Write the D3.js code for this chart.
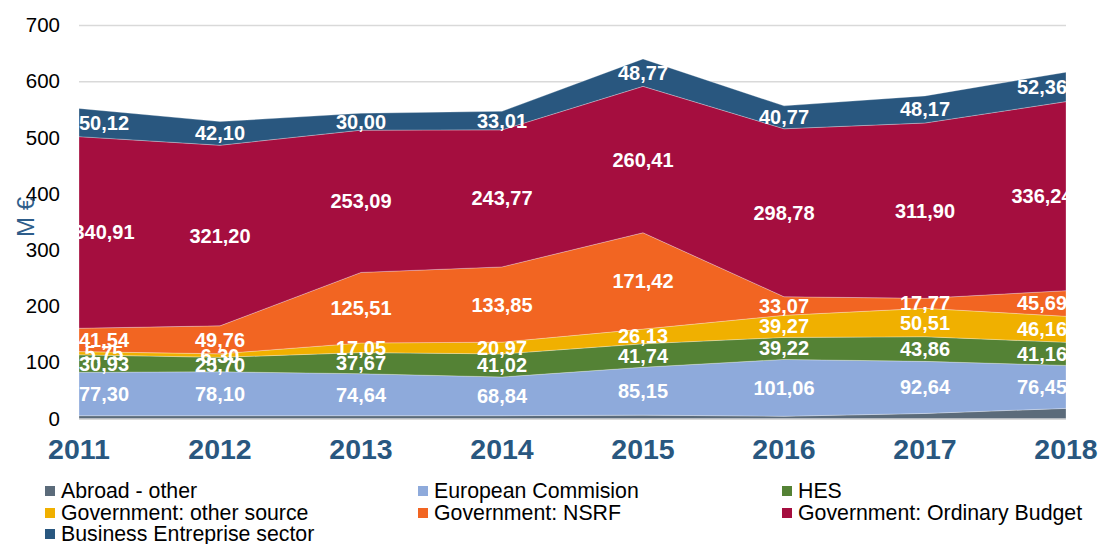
<!DOCTYPE html>
<html>
<head>
<meta charset="utf-8">
<script src="https://cdn.jsdelivr.net/npm/d3@7.9.0/dist/d3.min.js"></script>
<style>
  body { margin: 0; background: #fff; }
  svg text { font-family: "Liberation Sans", Arial, sans-serif; }
</style>
</head>
<body>
<svg id="chart" width="1100" height="544"></svg>
<script>
const years = ['2011', '2012', '2013', '2014', '2015', '2016', '2017', '2018'];

const abroadOther = [5, 5, 5, 5, 6, 4, 9, 18];
const europeanCommision = [77.30, 78.10, 74.64, 68.84, 85.15, 101.06, 92.64, 76.45];
const hes = [30.93, 25.70, 37.67, 41.02, 41.74, 39.22, 43.86, 41.16];
const govOther = [5.75, 6.30, 17.05, 20.97, 26.13, 39.27, 50.51, 46.16];
const govNsrf = [41.54, 49.76, 125.51, 133.85, 171.42, 33.07, 17.77, 45.69];
const govOrdinary = [340.91, 321.20, 253.09, 243.77, 260.41, 298.78, 311.90, 336.24];
const business = [50.12, 42.10, 30.00, 33.01, 48.77, 40.77, 48.17, 52.36];

const yTicks = [0, 100, 200, 300, 400, 500, 600, 700];

const series = [
  { key: 'abroad', name: 'Abroad - other', values: abroadOther, color: '#5b6b7a', label: false },
  { key: 'ec', name: 'European Commision', values: europeanCommision, color: '#8eaadb', label: true },
  { key: 'hes', name: 'HES', values: hes, color: '#548235', label: true },
  { key: 'other', name: 'Government: other source', values: govOther, color: '#f0b000', label: true },
  { key: 'nsrf', name: 'Government: NSRF', values: govNsrf, color: '#f26522', label: true },
  { key: 'ordinary', name: 'Government: Ordinary Budget', values: govOrdinary, color: '#a50e3f', label: true },
  { key: 'business', name: 'Business Entreprise sector', values: business, color: '#29577f', label: true },
];

// 1. Build a table for d3.stack
const table = years.map((year, i) => {
  let row = { year: year };
  series.forEach((s) => { row[s.key] = s.values[i]; });
  return row;
});
const stacked = d3.stack().keys(series.map((s) => s.key))(table);

// 2. Scales
const x = d3.scalePoint().domain(years).range([79, 1066]);
const y = d3.scaleLinear().domain([0, 700]).range([418.5, 25]);

const svg = d3.select('#chart');

// 3. Gridlines and y labels
svg.append('g')
  .selectAll('line')
  .data(yTicks)
  .join('line')
  .attr('x1', 79)
  .attr('x2', 1066)
  .attr('y1', (d) => y(d) + 0.5)
  .attr('y2', (d) => y(d) + 0.5)
  .attr('stroke', '#d9d9d9')
  .attr('stroke-width', (d) => (d === 0 ? 2 : 1.5));

svg.append('g')
  .selectAll('text')
  .data(yTicks)
  .join('text')
  .attr('x', 60)
  .attr('y', (d) => y(d))
  .attr('dy', '0.35em')
  .attr('text-anchor', 'end')
  .attr('font-size', 20.5)
  .attr('fill', '#000')
  .text((d) => d);

svg.append('text')
  .attr('transform', 'translate(34,217) rotate(-90)')
  .attr('text-anchor', 'middle')
  .attr('font-size', 24)
  .attr('fill', '#2e5d8a')
  .text('M €');

// 4. Areas
const area = d3.area()
  .x((d) => x(d.data.year))
  .y0((d) => y(d[0]))
  .y1((d) => y(d[1]));

svg.append('g')
  .selectAll('path')
  .data(stacked)
  .join('path')
  .attr('d', area)
  .attr('fill', (d, i) => series[i].color)
  .attr('stroke', 'rgba(255,255,255,0.35)')
  .attr('stroke-width', 0.8);

// 5. Data labels (edge labels pulled inward like the original)
const labelX = (year) => {
  if (year === years[0]) return x(year) + 25;
  if (year === years[years.length - 1]) return x(year) - 24;
  return x(year);
};

const labels = svg.append('g');
stacked.forEach((layer, i) => {
  if (!series[i].label) return;
  layer.forEach((d) => {
    labels.append('text')
      .attr('x', labelX(d.data.year))
      .attr('y', y((d[0] + d[1]) / 2))
      .attr('dy', '0.35em')
      .attr('text-anchor', 'middle')
      .attr('font-size', 20)
      .attr('font-weight', 'bold')
      .attr('fill', '#fff')
      .text(d3.format('.2f')(d[1] - d[0]).replace('.', ','));
  });
});

// 6. Year labels
svg.append('g')
  .selectAll('text')
  .data(years)
  .join('text')
  .attr('x', (d) => x(d))
  .attr('y', 459)
  .attr('text-anchor', 'middle')
  .attr('font-size', 28.5)
  .attr('font-weight', 'bold')
  .attr('fill', '#29577f')
  .text((d) => d);

// 7. Legend
const legendX = [45, 418, 782];
const legendY = [491, 513, 534];
const legend = svg.append('g');
series.forEach((s, i) => {
  let lx = legendX[i % 3];
  let ly = legendY[Math.floor(i / 3)];
  legend.append('rect')
    .attr('x', lx)
    .attr('y', ly - 5)
    .attr('width', 10)
    .attr('height', 10)
    .attr('fill', s.color);
  legend.append('text')
    .attr('x', lx + 16)
    .attr('y', ly)
    .attr('dy', '0.35em')
    .attr('font-size', 21.3)
    .attr('fill', '#000')
    .text(s.name);
});
</script>
</body>
</html>
